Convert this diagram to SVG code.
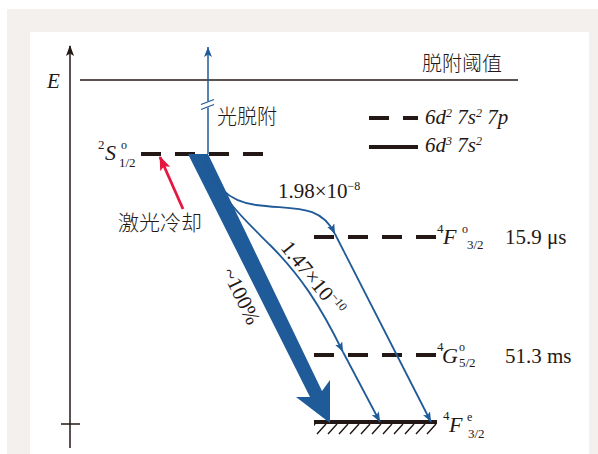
<svg xmlns="http://www.w3.org/2000/svg" width="598" height="454" viewBox="0 0 598 454">
<style>
.k{stroke:#231815;fill:none}
.lv{stroke:#231815;stroke-width:4;fill:none}
.dash{stroke-dasharray:20 14}
.b{stroke:#1f5a99;fill:none;stroke-width:1.8}
.s{font-family:"Liberation Serif","Times New Roman",serif;fill:#231815}
.i{font-style:italic}
.c{font-family:"Noto Sans CJK SC","Noto Sans",sans-serif;fill:#231815;font-weight:300}
</style>
<defs>
<marker id="mb" viewBox="0 0 10 8" refX="10" refY="4" markerWidth="10" markerHeight="8" markerUnits="userSpaceOnUse" orient="auto"><path d="M0,0 L10,4 L0,8 L2.5,4 z" fill="#1f5a99"/></marker>
<marker id="mr" viewBox="0 0 14 11" refX="13" refY="5.5" markerWidth="14" markerHeight="11" markerUnits="userSpaceOnUse" orient="auto"><path d="M0,0 L14,5.5 L0,11 L3,5.5 z" fill="#e5173f"/></marker>
<marker id="mk" viewBox="0 0 11 8" refX="10" refY="4" markerWidth="11" markerHeight="8" markerUnits="userSpaceOnUse" orient="auto"><path d="M0,0 L11,4 L0,8 L2.5,4 z" fill="#231815"/></marker>
<clipPath id="hc"><rect x="314" y="423" width="123" height="12"/></clipPath>
</defs>
<rect x="7" y="9" width="591" height="445" fill="#f4f0ed"/>
<rect x="30" y="32" width="559" height="422" fill="#ffffff"/>

<g id="axis">
<line class="k" x1="70" y1="448" x2="70" y2="46" stroke-width="1.5" marker-end="url(#mk)"/>
<line class="k" x1="61" y1="424" x2="80" y2="424" stroke-width="1.5"/>
<text class="s i" x="47" y="88" font-size="21">E</text>
</g>

<g id="threshold">
<line class="k" x1="80" y1="80" x2="518" y2="80" stroke-width="1.5"/>
<text class="c" x="422" y="71" font-size="20">脱附阈值</text>
</g>

<g id="legend">
<line class="lv" x1="369" y1="118" x2="389" y2="118"/>
<line class="lv" x1="403" y1="118" x2="418" y2="118"/>
<text class="s i" x="425" y="124" font-size="21">6d<tspan dy="-7" font-size="12">2</tspan><tspan dy="7"> 7s</tspan><tspan dy="-7" font-size="12">2</tspan><tspan dy="7"> 7p</tspan></text>
<line class="lv" x1="369" y1="147" x2="418" y2="147"/>
<text class="s i" x="425" y="152" font-size="21">6d<tspan dy="-7" font-size="12">3</tspan><tspan dy="7"> 7s</tspan><tspan dy="-7" font-size="12">2</tspan></text>
</g>

<g id="level-2S">
<line class="lv dash" x1="141" y1="154" x2="263" y2="154"/>
<text class="s" x="98" y="149" font-size="13">2</text>
<text class="s i" x="105" y="160" font-size="22">S</text>
<text class="s" x="121" y="149" font-size="12">o</text>
<text class="s" x="119" y="167" font-size="13">1/2</text>
</g>

<g id="level-4F-odd">
<line class="lv dash" x1="314" y1="237" x2="436" y2="237"/>
<text class="s" x="437" y="233" font-size="13">4</text>
<text class="s i" x="443" y="244" font-size="22">F</text>
<text class="s" x="462" y="233" font-size="12">o</text>
<text class="s" x="467" y="249" font-size="13">3/2</text>
<text class="s" x="505" y="244" font-size="21">15.9 μs</text>
</g>

<g id="level-4G">
<line class="lv dash" x1="314" y1="355" x2="436" y2="355"/>
<text class="s" x="437" y="351" font-size="13">4</text>
<text class="s i" x="442" y="363" font-size="22">G</text>
<text class="s" x="459" y="351" font-size="12">o</text>
<text class="s" x="459" y="367" font-size="13">5/2</text>
<text class="s" x="505" y="363" font-size="21">51.3 ms</text>
</g>

<g id="level-ground">
<line class="lv" x1="314" y1="422" x2="437" y2="422"/>
<g clip-path="url(#hc)" stroke="#231815" stroke-width="1.4">
<path d="M306,434 L315,424 M317,434 L326,424 M328,434 L337,424 M339,434 L348,424 M350,434 L359,424 M361,434 L370,424 M372,434 L381,424 M383,434 L392,424 M394,434 L403,424 M405,434 L414,424 M416,434 L425,424 M427,434 L436,424 M438,434 L447,424"/>
</g>
<text class="s" x="443" y="420" font-size="13">4</text>
<text class="s i" x="449" y="432" font-size="22">F</text>
<text class="s" x="467" y="421" font-size="12">e</text>
<text class="s" x="468" y="438" font-size="13">3/2</text>
</g>

<g id="connectors">
<line x1="208" y1="154" x2="208" y2="47" stroke="#1f5a99" stroke-width="1.5" marker-end="url(#mb)"/>
<rect x="204" y="101.5" width="8" height="6" fill="#ffffff"/>
<line x1="201" y1="104.5" x2="214" y2="99.5" stroke="#1f5a99" stroke-width="1.3"/>
<line x1="201" y1="109.5" x2="214" y2="104.5" stroke="#1f5a99" stroke-width="1.3"/>
<polygon points="188,154 208,154 322,391 330,380 330,423 296,397 310,397" fill="#1f5a99"/>
<path class="b" d="M204,158 C215,185 226,201 256,205 C292,210 320,203 335,234" marker-end="url(#mb)"/>
<path class="b" d="M335,234 L431,422" marker-end="url(#mb)"/>
<path class="b" d="M204,160 C222,200 245,220 270,245 C300,275 320,305 343,352" marker-end="url(#mb)"/>
<path class="b" d="M343,352 L380,422" marker-end="url(#mb)"/>
<line x1="183" y1="209" x2="160" y2="157" stroke="#e5173f" stroke-width="2.8" marker-end="url(#mr)"/>
</g>

<g id="labels">
<text class="c" x="217" y="124" font-size="20">光脱附</text>
<text class="c" x="118" y="230" font-size="21">激光冷却</text>
<text class="s" x="278" y="198" font-size="21">1.98×10<tspan dy="-8" font-size="12">−8</tspan></text>
<text class="s" font-size="21" transform="translate(280,248) rotate(51)">1.47×10<tspan dy="-8" font-size="12">−10</tspan></text>
<text class="s" font-size="21" text-anchor="middle" transform="translate(235,299) rotate(63.8)">~100%</text>
</g>
</svg>
